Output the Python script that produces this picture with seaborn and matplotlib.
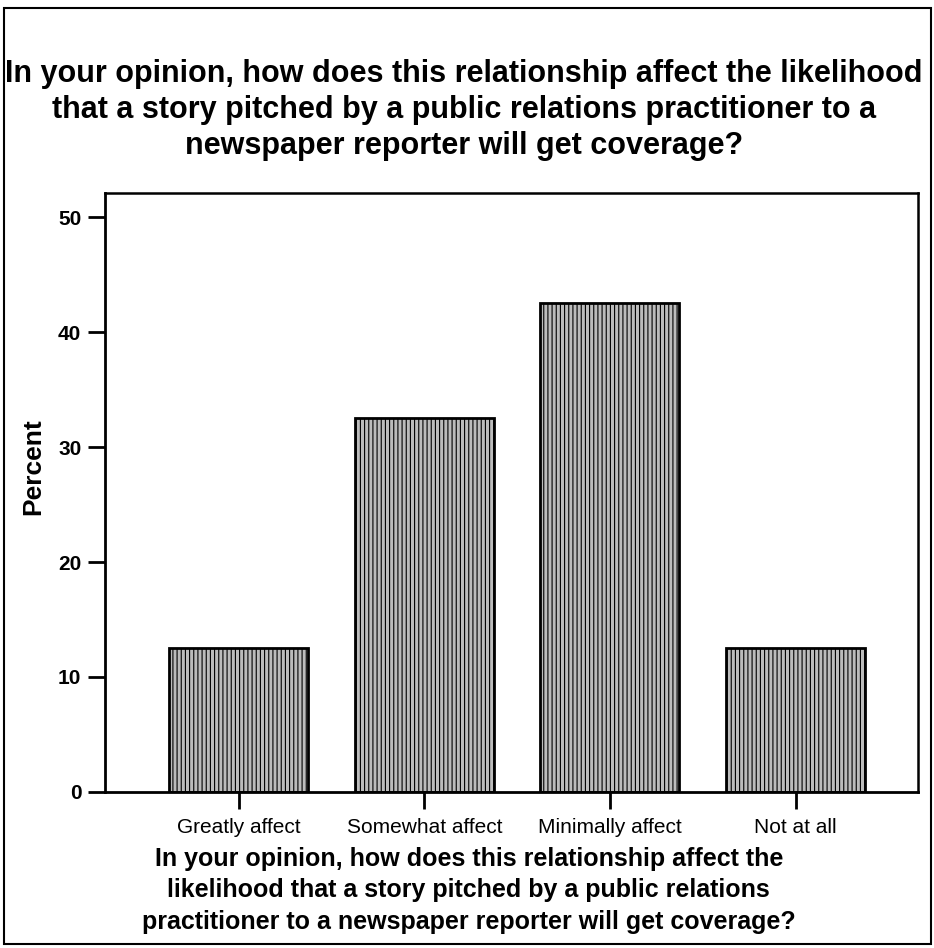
import matplotlib
matplotlib.use("Agg")
import matplotlib.pyplot as plt
import seaborn as sns
import pandas as pd
from matplotlib.patches import Rectangle

categories = ["Greatly affect", "Somewhat affect", "Minimally affect", "Not at all"]
percents = [12.5, 32.5, 42.5, 12.5]
yticks = [0, 10, 20, 30, 40, 50]

question = ("In your opinion, how does this relationship affect the likelihood\n"
            "that a story pitched by a public relations practitioner to a\n"
            "newspaper reporter will get coverage?")
xlabel = ("In your opinion, how does this relationship affect the\n"
          "likelihood that a story pitched by a public relations\n"
          "practitioner to a newspaper reporter will get coverage?")

df = pd.DataFrame({"answer": categories, "percent": percents})

sns.set_style("white")
plt.rcParams["font.family"] = ["Liberation Sans", "DejaVu Sans"]
plt.rcParams["text.color"] = "black"
plt.rcParams["axes.labelcolor"] = "black"
plt.rcParams["xtick.color"] = "black"
plt.rcParams["ytick.color"] = "black"
plt.rcParams["hatch.color"] = "#404040"
plt.rcParams["hatch.linewidth"] = 0.8

fig = plt.figure(figsize=(9.34, 9.48), dpi=100)
ax = fig.add_axes([0.1124, 0.1646, 0.8705, 0.6318])

sns.barplot(data=df, x="answer", y="percent", ax=ax, color="#bcbcbc",
            edgecolor="black", linewidth=2.0, width=0.75, hatch="||||",
            saturation=1)

ax.set_xlim(-0.72, 3.66)
ax.set_ylim(0, 52.1)
ax.set_yticks(yticks)
ax.set_yticklabels([str(t) for t in yticks], fontsize=15, fontweight="bold")
ax.set_xticks(range(len(categories)))
ax.set_xticklabels(categories, fontsize=15)
ax.tick_params(axis="both", direction="out", length=12, width=2, color="black",
               left=True, bottom=True, pad=5)
ax.tick_params(axis="x", pad=7)
for s in ax.spines.values():
    s.set_visible(True)
    s.set_color("black")
    s.set_linewidth(1.8)
ax.spines["left"].set_linewidth(2)
ax.spines["bottom"].set_linewidth(2)

ax.set_ylabel("Percent", fontsize=19, fontweight="bold")
ax.yaxis.set_label_coords(-0.074, 0.544)
ax.set_xlabel("")

fig.text(0.497, 0.884, question, ha="center", va="center", fontsize=22,
         fontweight="bold", linespacing=1.25)
fig.text(0.502, 0.061, xlabel, ha="center", va="center", fontsize=18,
         fontweight="bold", linespacing=1.4)

# outer frame
fig.patches.append(Rectangle((0.004, 0.004), 0.993, 0.988, transform=fig.transFigure,
                             fill=False, edgecolor="black", linewidth=1.5))

fig.savefig("out.png", dpi=100, facecolor="white")
